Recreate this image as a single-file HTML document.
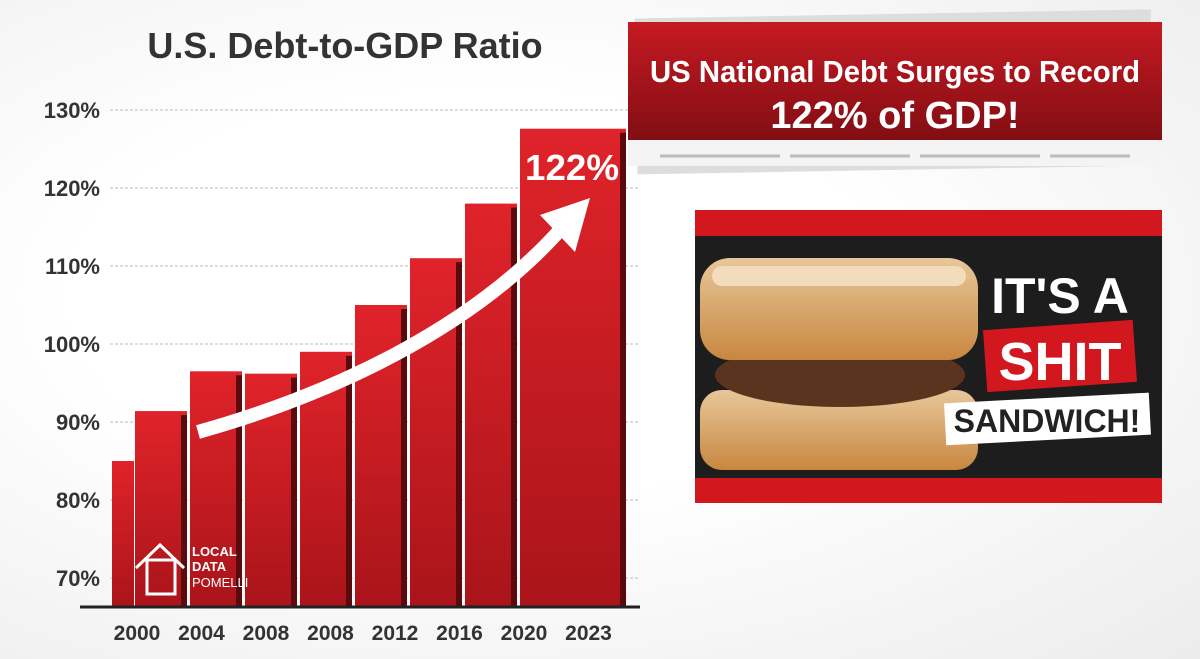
<!DOCTYPE html>
<html><head><meta charset="utf-8"><style>
body{margin:0;width:1200px;height:659px;overflow:hidden;background:radial-gradient(ellipse at 40% 45%,#fff 40%,#ececec 100%);font-family:"Liberation Sans",sans-serif}
svg{position:absolute;left:0;top:0}
</style></head><body>
<svg width="1200" height="659">
<defs>
<linearGradient id="bar" x1="0" y1="0" x2="0" y2="1"><stop offset="0" stop-color="#e0232a"/><stop offset="1" stop-color="#a9141a"/></linearGradient>
<linearGradient id="ban" x1="0" y1="0" x2="0" y2="1"><stop offset="0" stop-color="#c61a22"/><stop offset="1" stop-color="#7d0d12"/></linearGradient>
<linearGradient id="bread" x1="0" y1="0" x2="0" y2="1"><stop offset="0" stop-color="#e7c79a"/><stop offset="1" stop-color="#c8873f"/></linearGradient>
</defs>
<text x="345" y="58" text-anchor="middle" font-size="36" font-weight="bold" fill="#333">U.S. Debt-to-GDP Ratio</text>
<g id="grid"></g><g id="bars"></g><g id="xl"></g>
<line x1="80" y1="607" x2="640" y2="607" stroke="#222" stroke-width="3"/>
<path d="M198,432 C330,395 470,330 560,230" stroke="#fff" stroke-width="14" fill="none" stroke-linecap="butt"/>
<polygon points="590,198 540,215 575,252" fill="#fff"/>
<text x="572" y="180" text-anchor="middle" font-size="36" font-weight="bold" fill="#fff" textLength="94" lengthAdjust="spacingAndGlyphs">122%</text>
<g fill="none" stroke="#fff" stroke-width="3">
<polyline points="136,568 160,545 184,568"/><rect x="147" y="560" width="28" height="34"/>
<text x="192" y="556" font-size="13" font-weight="bold" fill="#fff" stroke="none">LOCAL</text>
<text x="192" y="571" font-size="13" font-weight="bold" fill="#fff" stroke="none">DATA</text>
<text x="192" y="587" font-size="13" fill="#fff" stroke="none">POMELLI</text></g>
<g>
<rect x="636" y="14" width="516" height="156" fill="#ddd" transform="rotate(-1 890 90)"/>
<rect x="628" y="22" width="534" height="126" fill="url(#ban)"/>
<rect x="628" y="140" width="534" height="26" fill="#f4f4f4"/>
<line x1="660" y1="156" x2="1130" y2="156" stroke="#bbb" stroke-width="3" stroke-dasharray="120,10"/>
<text x="895" y="82" text-anchor="middle" font-size="31" font-weight="bold" fill="#fff" textLength="490" lengthAdjust="spacingAndGlyphs">US National Debt Surges to Record</text>
<text x="895" y="128" text-anchor="middle" font-size="38" font-weight="bold" fill="#fff">122% of GDP!</text></g>
<g>
<rect x="695" y="210" width="467" height="293" fill="#d2171f"/>
<rect x="695" y="236" width="467" height="242" fill="#1d1d1d"/>
<rect x="700" y="390" width="278" height="80" rx="22" fill="url(#bread)"/>
<ellipse cx="840" cy="375" rx="125" ry="32" fill="#5b3420"/>
<rect x="700" y="258" width="278" height="102" rx="30" fill="url(#bread)"/>
<rect x="712" y="266" width="254" height="20" rx="10" fill="#f2dcbb"/>
<g font-weight="bold" text-anchor="middle">
<text x="1060" y="313" font-size="50" fill="#fff">IT'S A</text>
<rect x="985" y="325" width="150" height="62" fill="#d2171f" transform="rotate(-4 1060 356)"/>
<text x="1060" y="380" font-size="54" fill="#fff">SHIT</text>
<rect x="945" y="398" width="205" height="42" fill="#fff" transform="rotate(-3 1047 419)"/>
<text x="1047" y="432" font-size="32" fill="#222">SANDWICH!</text></g></g>
</svg>
<script>
const yTicks=[130,120,110,100,90,80,70];
const years=["2000","2004","2008","2008","2012","2016","2020","2023"];
const values=[91.4,96.5,96.2,99,105,111,118,127.6];
const leftStub=85;
const y=v=>110+(130-v)*7.8;
const x=i=>135+i*55;
const ns="http://www.w3.org/2000/svg";
function mk(t,a,p){const e=document.createElementNS(ns,t);for(const k in a)e.setAttribute(k,a[k]);p.appendChild(e);return e;}
const g=document.getElementById('grid');
yTicks.forEach(v=>{const l=mk('line',{x1:110,x2:640,y1:y(v),y2:y(v),stroke:'#bbb','stroke-dasharray':'3,2'},g);


const t=mk('text',{x:100,y:y(v)+8,'text-anchor':'end','font-size':22,'font-weight':'bold',fill:'#333'},g);t.textContent=v+'%';

});
const b=document.getElementById('bars');
const s=mk('rect',{x:112,y:y(leftStub),width:22,height:607-y(leftStub),fill:'url(#bar)'},b);


values.forEach((v,i)=>{const w=i==7?106:52;const r=mk('rect',{x:x(i),y:y(v),width:w,height:607-y(v),fill:'url(#bar)'},b);


const d=mk('rect',{x:x(i)+w-6,y:y(v)+4,width:6,height:603-y(v),fill:'#5a0a0d'},b);


const t=mk('text',{x:137+i*64.5,y:640,'text-anchor':'middle','font-size':21,'font-weight':'bold',fill:'#333'},document.getElementById('xl'));
t.textContent=years[i];

});
</script>
</body></html>
